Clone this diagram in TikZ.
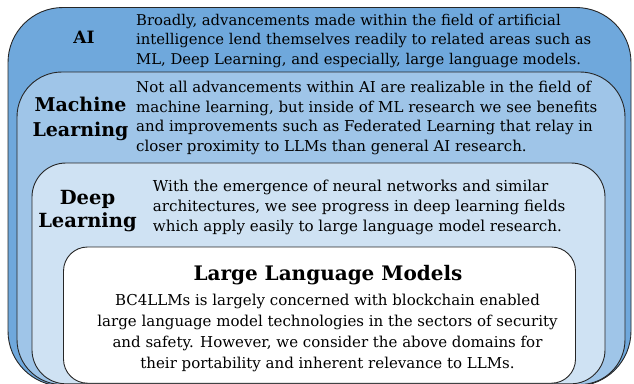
\documentclass[tikz,border=0pt]{standalone}
\usepackage{fontspec}
\setmainfont{DejaVu Serif}
\definecolor{aiblue}{HTML}{6FA8DC}
\definecolor{mlblue}{HTML}{9FC5E8}
\definecolor{dlblue}{HTML}{CFE2F3}
\tikzset{
  layer/.style={draw=black!85, line width=0.9pt},
  desc/.style={inner sep=0pt, anchor=north west, align=left, font=\fontsize{15}{19.5}\selectfont},
  title/.style={inner sep=0pt, align=center, font=\bfseries\fontsize{19}{25}\selectfont}
}
\begin{document}
\begin{tikzpicture}[x=1pt,y=-1pt]
\useasboundingbox (0,0) rectangle (634,383);
\clip (0,0) rectangle (634,383);
\path[layer, fill=aiblue, rounded corners=55pt] (8,7.5) rectangle (631,386);
\path[layer, fill=mlblue, rounded corners=45pt] (17,72) rectangle (625,384.5);
\path[layer, fill=dlblue, rounded corners=34pt] (32,163) rectangle (605,383.8);
\path[layer, fill=white, rounded corners=24pt] (63.5,247) rectangle (575.5,383.2);
\node[title, anchor=base, font=\bfseries\fontsize{17}{20}\selectfont] (ait) at (84,43) {AI};
\node[desc, font=\fontsize{14.8}{19.5}\selectfont] (aid) at (136,13.8) {Broadly, advancements made within the field of artificial\\intelligence lend themselves readily to related areas such as\\ML, Deep Learning, and especially, large language models.};
\node[title] (mlt) at (80.5,118.5) {Machine\\Learning};
\node[desc] (mld) at (136,81) {Not all advancements within AI are realizable in the field of\\machine learning, but inside of ML research we see benefits\\and improvements such as Federated Learning that relay in\\closer proximity to LLMs than general AI research.};
\node[title, font=\bfseries\fontsize{19.5}{23}\selectfont] (dlt) at (87.5,211) {Deep\\Learning};
\node[desc, font=\fontsize{15.1}{20}\selectfont] (dld) at (152.7,180.3) {With the emergence of neural networks and similar\\architectures, we see progress in deep learning fields\\which apply easily to large language model research.};
\node[title, anchor=base, font=\bfseries\fontsize{20}{24}\selectfont] (llmt) at (328,280) {Large Language Models};
\node[desc, anchor=north, align=center, font=\fontsize{15}{21}\selectfont] (llmd) at (327.5,293.6) {BC4LLMs is largely concerned with blockchain enabled\\large language model technologies in the sectors of security\\and safety. However, we consider the above domains for\\their portability and inherent relevance to LLMs.};
\end{tikzpicture}
\end{document}
